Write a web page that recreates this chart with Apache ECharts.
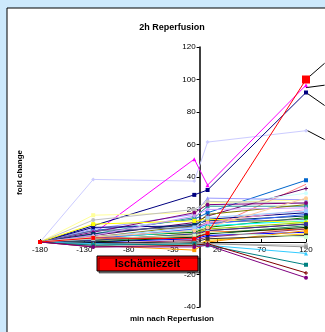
<!DOCTYPE html>
<html>
<head>
<meta charset="utf-8">
<script src="https://cdn.jsdelivr.net/npm/echarts@6/dist/echarts.min.js"></script>
<style>
  html, body { margin: 0; padding: 0; background: #cde9fc; }
  #chart { width: 325px; height: 332px; }
</style>
</head>
<body>
<div id="chart"></div>
<script>
// Messzeitpunkte (min nach Reperfusion)
const minutes = [-180, -120, -6, 9, 120];
const xTicks = [-180, -130, -80, -30, 20, 70, 120];
const yTicks = [-40, -20, 0, 20, 40, 60, 80, 100, 120];

// fold change pro Messgröße, je ein Wert pro Zeitpunkt
const foldChange = [
  [0, 38.5, 37.5, 61.5, 68.5],
  [0, 5, 51, 35, 96.5],
  [0, 10, 29, 32, 92],
  [0, 7, 14, 18, 38],
  [0, 3, 6, 8, 35.5],
  [0, 4, 12, 16, 33],
  [0, 6, 15, 22, 30],
  [0, 16.5, 18, 24, 26],
  [0, 8, 17, 27, 26],
  [0, 13.5, 20, 25, 24],
  [0, 5, 15, 22, 22],
  [0, 3, 10, 17, 23],
  [0, 6, 18, 23, 24],
  [0, 9, 10, 14, 18],
  [0, 5, 11, 13, 16],
  [0, 3, 6, 9, 15],
  [0, 2, 7, 10, 13],
  [0, 11, 13, 14, 12],
  [0, 1, 4, 6, 8],
  [0, 2, 4, 7, 11],
  [0, 1, 3, 5, 10],
  [0, 0, 2, 4, 6],
  [0, -1, -2, 1, 5],
  [0, -2, -5, 0, 7],
  [0, 7, 9, 12, 14],
  [0, 1, 5, 8, 12],
  [0, 2, 8, 12, 20],
  [0, 4, 16, 20, 21],
  [0, 3, 9, 15, 19],
  [0, 2, 8, 11, 17],
  [0, 0, 3, 5, 9],
  [0, 1, 5, 7, 11],
  [0, -1, 1, 3, 8],
  [0, -1, 0, 2, 4],
  [0, 3, 7, 9, 27],
  [0, 2, 4, 6, 3],
  [0, -2, -1, -1, -2],
  [0, -2, 0, -1, -3],
  [0, -1, -2, -2, -7],
  [0, -2, -1, -2, -14],
  [0, -3, -2, -1, -19],
  [0, -3, -3, -2, -22],
  [0, 2.5, 2, 5.5, 100]
];

// Hinweislinien zu den (abgeschnittenen) Beschriftungen rechts: [x1, y1, x2, y2]
const leaderLines = [
  [120, 100, 141, 110],
  [120, 95, 141, 96.5],
  [120, 92, 141, 84],
  [120, 69, 141, 63]
];

const colors = ['#ccccff', '#ff00ff', '#000080', '#0066cc', '#ff8080', '#660066', '#ccffff',
  '#ffff99', '#9999ff', '#c0c0c0', '#339999', '#808000', '#800080', '#000080', '#003366',
  '#008000', '#00ffff', '#ffff00', '#ff6600', '#993300', '#339966', '#0000ff', '#ffcc00',
  '#ff9900', '#666699', '#99cc00', '#ff99cc', '#cc99ff', '#99ccff', '#3366ff', '#003300',
  '#333399', '#993366', '#333333', '#ffcc99', '#ccffcc', '#c0c0c0', '#969696', '#33ccff',
  '#008080', '#800000', '#800080', '#ff0000'];
const plus = 'path://M3,0H5V3H8V5H5V8H3V5H0V3H3Z';
const symbols = ['diamond', 'triangle', 'rect', 'rect', 'none', plus, 'circle', 'rect', 'triangle',
  'circle', 'rect', 'none', 'circle', 'circle', 'rect', 'rect', 'triangle', 'rect', 'rect', 'none',
  'diamond', 'circle', 'rect', 'rect', 'none', 'triangle', 'circle', 'diamond', 'rect', 'none',
  'circle', 'rect', 'none', 'rect', 'circle', 'rect', 'rect', 'circle', 'triangle', 'rect',
  plus, 'circle', 'rect'];

const chart = echarts.init(document.getElementById('chart'));

// Pixelposition der Nulllinien: Achsen werden per offset dorthin geschoben
const gridLeft = 40, gridRight = 19, gridTop = 47, gridBottom = 25;
const plotW = 325 - gridLeft - gridRight, plotH = 332 - gridTop - gridBottom;
const xZero = plotW * (0 - xTicks[0]) / (xTicks[xTicks.length - 1] - xTicks[0]);
const yZero = plotH * (0 - yTicks[0]) / (yTicks[yTicks.length - 1] - yTicks[0]);

const series = foldChange.map((vals, i) => ({
  type: 'line',
  data: vals.map((v, j) => [minutes[j], v]),
  symbol: symbols[i],
  symbolSize: 4,
  showSymbol: symbols[i] !== 'none',
  lineStyle: { width: 1, color: colors[i] },
  itemStyle: { color: colors[i] },
  silent: true,
  z: 3
}));
// großes rotes Quadrat am Ende
series[series.length - 1].data[4] = { value: [120, 100], symbol: 'rect', symbolSize: 8 };

series.push({
  type: 'custom',
  data: leaderLines,
  clip: false,
  silent: true,
  z: 2,
  renderItem(params, api) {
    const a = api.coord([api.value(0), api.value(1)]);
    const b = api.coord([api.value(2), api.value(3)]);
    return {
      type: 'line',
      shape: { x1: a[0], y1: a[1], x2: b[0], y2: b[1] },
      style: { stroke: '#000', lineWidth: 1 }
    };
  }
});

chart.setOption({
  animation: false,
  backgroundColor: 'transparent',
  textStyle: { fontFamily: 'Liberation Sans, Arial, sans-serif' },
  graphic: [
    { type: 'rect', z: -10, shape: { x: 7, y: 8, width: 340, height: 360 },
      style: { fill: '#fff', stroke: '#000', lineWidth: 1 } },
    { type: 'text', left: 16, top: 150, rotation: Math.PI / 2,
      style: { text: 'fold change', font: 'bold 8px Liberation Sans, Arial', fill: '#000' } },
    { type: 'text', x: 172, y: 319,
      style: { text: 'min nach Reperfusion', font: 'bold 8px Liberation Sans, Arial', fill: '#000',
        align: 'center', verticalAlign: 'middle' } },
    { type: 'rect', z: 100, shape: { x: 97, y: 256, width: 101, height: 15 },
      style: { fill: '#ff0000', stroke: '#000', lineWidth: 1,
        shadowColor: 'rgba(0,0,0,0.5)', shadowOffsetX: 2, shadowOffsetY: 2 } },
    { type: 'text', z: 101, x: 147.5, y: 264,
      style: { text: 'Ischämiezeit', font: 'bold 11px Liberation Sans, Arial', fill: '#000',
        align: 'center', verticalAlign: 'middle' } }
  ],
  title: {
    text: '2h Reperfusion', left: 167, top: 18, textAlign: 'center',
    textStyle: { fontSize: 9, fontWeight: 'bold', color: '#000' }
  },
  grid: { left: gridLeft, right: gridRight, top: gridTop, bottom: gridBottom },
  xAxis: {
    type: 'value', min: xTicks[0], max: xTicks[xTicks.length - 1], interval: 50,
    offset: -yZero,
    axisLine: { onZero: false, lineStyle: { color: '#000', width: 1 } },
    axisTick: { show: true, inside: true, length: 3, lineStyle: { color: '#000' } },
    axisLabel: { fontSize: 8, color: '#000', margin: 4 },
    splitLine: { show: false }
  },
  yAxis: {
    type: 'value', min: yTicks[0], max: yTicks[yTicks.length - 1], interval: 20,
    offset: -xZero,
    axisLine: { show: true, onZero: false, lineStyle: { color: '#000', width: 1.5 } },
    axisTick: { show: true, length: 3, lineStyle: { color: '#000' } },
    axisLabel: { fontSize: 8, color: '#000', margin: 4 },
    splitLine: { show: false }
  },
  series: series
});
</script>
</body>
</html>
